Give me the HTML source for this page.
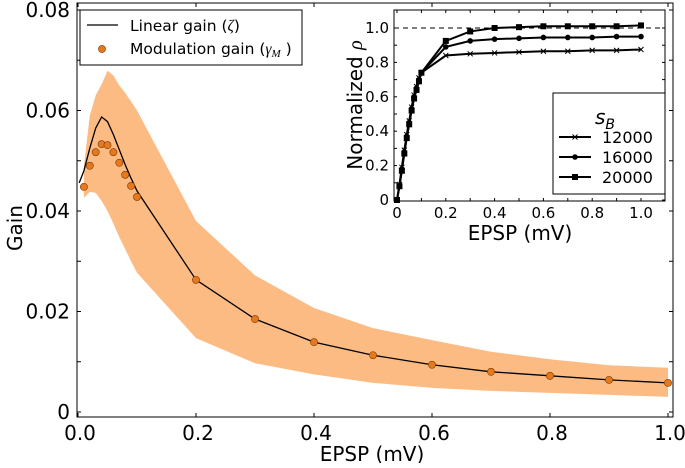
<!DOCTYPE html>
<html><head><meta charset="utf-8"><style>
body{margin:0;background:#fff}
svg text{font-family:"DejaVu Sans","Liberation Sans",sans-serif;fill:#000}
</style></head><body>
<svg id="c" width="685" height="463" viewBox="0 0 685 463"></svg>
<script>
const xs=[0.01,0.02,0.03,0.04,0.05,0.06,0.07,0.08,0.09,0.1,0.2,0.3,0.4,0.5,0.6,0.7,0.8,0.9,1.0];
const lineXs=[0.002,0.01,0.02,0.03,0.04,0.05,0.06,0.07,0.08,0.09,0.1,0.2,0.3,0.4,0.5,0.6,0.7,0.8,0.9,1.0];
const linearGain=[0.0456,0.0480,0.0525,0.0565,0.0587,0.0578,0.0552,0.0522,0.0492,0.0465,0.0440,0.0263,0.0185,0.0139,0.0113,0.0094,0.0080,0.0072,0.0064,0.0058];
const modGain=[0.0448,0.0490,0.0517,0.0533,0.0531,0.0517,0.0496,0.0472,0.0450,0.0428,0.0263,0.0185,0.0139,0.0113,0.0094,0.0080,0.0072,0.0064,0.0058];
const bandUpper=[0.0490,0.0590,0.0630,0.0652,0.0679,0.0670,0.0650,0.0635,0.0618,0.0600,0.0380,0.0272,0.0207,0.0167,0.0143,0.0120,0.0105,0.0093,0.0088];
const bandLower=[0.0426,0.0438,0.0436,0.0420,0.0400,0.0375,0.0348,0.0324,0.0300,0.0277,0.0147,0.0097,0.0075,0.0058,0.0048,0.0042,0.0038,0.0034,0.0030];
const xTicks=[0,0.2,0.4,0.6,0.8,1.0];
const xTickLabels=["0.0","0.2","0.4","0.6","0.8","1.0"];
const yTicks=[0,0.02,0.04,0.06,0.08];
const yTickLabels=["0","0.02","0.04","0.06","0.08"];
const inX=[0,0.01,0.02,0.03,0.04,0.05,0.06,0.07,0.08,0.09,0.1,0.2,0.3,0.4,0.5,0.6,0.7,0.8,0.9,1.0];
const rho12000=[0,0.09,0.19,0.29,0.38,0.46,0.54,0.61,0.66,0.71,0.74,0.84,0.85,0.855,0.86,0.865,0.865,0.87,0.87,0.875];
const rho16000=[0,0.08,0.18,0.28,0.37,0.45,0.53,0.60,0.65,0.70,0.74,0.89,0.925,0.935,0.94,0.945,0.945,0.945,0.95,0.95];
const rho20000=[0,0.08,0.17,0.27,0.36,0.44,0.52,0.59,0.64,0.69,0.74,0.925,0.98,1.0,1.005,1.01,1.01,1.01,1.01,1.015];
const inXTicks=[0,0.2,0.4,0.6,0.8,1.0];
const inXLabels=["0","0.2","0.4","0.6","0.8","1.0"];
const inYTicks=[0,0.2,0.4,0.6,0.8,1.0];
const inYLabels=["0","0.2","0.4","0.6","0.8","1.0"];

const NS="http://www.w3.org/2000/svg";
const svg=document.getElementById('c');
function mk(tag,attrs,parent,text){const e=document.createElementNS(NS,tag);for(const k in attrs)e.setAttribute(k,attrs[k]);if(text!==undefined)e.textContent=text;(parent||svg).appendChild(e);return e;}
const X=v=>78+v*590, Y=v=>412-v/0.02*100.5;
const L=77,R=673,T=3,B=417;
const gMain=mk('g',{});


let p='M'+xs.map((x,i)=>X(x)+','+Y(bandUpper[i])).join('L');
for(let i=xs.length-1;i>=0;i--)p+='L'+X(xs[i])+','+Y(bandLower[i]);
const band=mk('path',{d:p+'Z',fill:'#fdbb84'},gMain);


const ln=mk('polyline',{points:lineXs.map((x,i)=>X(x)+','+Y(linearGain[i])).join(' '),fill:'none',stroke:'#000','stroke-width':1.3},gMain);


xs.forEach((x,i)=>{const c=mk('circle',{cx:X(x),cy:Y(modGain[i]),r:3.6,fill:'#e6791e',stroke:'#7a3a00','stroke-width':0.6},gMain);

});
mk('rect',{x:L,y:T,width:R-L,height:B-T,fill:'none',stroke:'#000','stroke-width':1},gMain);
for(let v=0;v<=0.0805;v+=0.01){const y=Y(v);mk('line',{x1:L,x2:L+4,y1:y,y2:y,stroke:'#000'},gMain);mk('line',{x1:R,x2:R-4,y1:y,y2:y,stroke:'#000'},gMain);}
yTicks.forEach((v,i)=>{const t=mk('text',{x:70,y:Y(v)+7,'text-anchor':'end','font-size':20},gMain,yTickLabels[i]);

});
xTicks.forEach((v,i)=>{mk('line',{x1:X(v),x2:X(v),y1:B,y2:B-4,stroke:'#000'},gMain);mk('line',{x1:X(v),x2:X(v),y1:T,y2:T+4,stroke:'#000'},gMain);
const t=mk('text',{x:X(v)+2,y:440,'text-anchor':'middle','font-size':20},gMain,xTickLabels[i]);

});
const xl=mk('text',{x:372,y:461,'text-anchor':'middle','font-size':20},gMain,'EPSP (mV)');


const yl=mk('text',{x:0,y:0,transform:'translate(22,228) rotate(-90)','text-anchor':'middle','font-size':20},gMain,'Gain');


const lg=mk('g',{});


mk('rect',{x:80,y:10,width:222,height:55,fill:'#fff',stroke:'#000','stroke-width':1},lg);
mk('line',{x1:87,x2:118,y1:25,y2:25,stroke:'#000','stroke-width':1.3},lg);
const l1=mk('text',{x:130,y:31,'font-size':15.5},lg,'Linear gain (');
mk('tspan',{'font-style':'italic','font-family':'Liberation Serif,serif'},l1,'ζ');
mk('tspan',{},l1,')');
mk('circle',{cx:102,cy:49,r:3.6,fill:'#e6791e',stroke:'#7a3a00','stroke-width':0.6},lg);
const lt=mk('text',{x:130,y:54,'font-size':15.5},lg,'Modulation gain (');
mk('tspan',{'font-style':'italic','font-family':'Liberation Serif,serif'},lt,'γ');
mk('tspan',{'font-style':'italic','font-family':'Liberation Serif,serif','font-size':11,dy:3},lt,'M');
mk('tspan',{dy:-3},lt,' )');
const IX=v=>397+v*244, IY=v=>200-v*172;
const iL=394,iR=665,iT=10,iB=201;
const gi=mk('g',{});


mk('rect',{x:iL,y:iT,width:iR-iL,height:iB-iT,fill:'#fff',stroke:'#000','stroke-width':1},gi);
mk('line',{x1:iL,x2:iR,y1:IY(1),y2:IY(1),stroke:'#000','stroke-dasharray':'5,4','stroke-width':1},gi);
for(let v=0;v<=1.05;v+=0.1){const y=IY(v);mk('line',{x1:iL,x2:iL+3,y1:y,y2:y,stroke:'#000'},gi);mk('line',{x1:iR,x2:iR-3,y1:y,y2:y,stroke:'#000'},gi);}
for(let v=0;v<=1.05;v+=0.1){const x=IX(v);mk('line',{x1:x,x2:x,y1:iB,y2:iB-3,stroke:'#000'},gi);mk('line',{x1:x,x2:x,y1:iT,y2:iT+3,stroke:'#000'},gi);}
inYTicks.forEach((v,i)=>{const t=mk('text',{x:iL-5,y:IY(v)+5,'text-anchor':'end','font-size':15},gi,inYLabels[i]);

});
inXTicks.forEach((v,i)=>{const t=mk('text',{x:IX(v),y:218,'text-anchor':'middle','font-size':15},gi,inXLabels[i]);

});
const ixl=mk('text',{x:520,y:240,'text-anchor':'middle','font-size':20},gi,'EPSP (mV)');


const iyl=mk('text',{x:0,y:0,transform:'translate(362,105) rotate(-90)','text-anchor':'middle','font-size':20},gi,'Normalized ');
mk('tspan',{'font-style':'italic','font-family':'Liberation Serif,serif'},iyl,'ρ');


function marker(g,type,x,y){
 if(type==='x'){mk('path',{d:`M${x-2.5},${y-2.5}L${x+2.5},${y+2.5}M${x-2.5},${y+2.5}L${x+2.5},${y-2.5}`,stroke:'#000','stroke-width':1},g);}
 else if(type==='o'){mk('circle',{cx:x,cy:y,r:2.8,fill:'#000'},g);}
 else mk('rect',{x:x-3,y:y-3,width:6,height:6,fill:'#000'},g);
}
[[rho12000,'x','series-12000'],[rho16000,'o','series-16000'],[rho20000,'s','series-20000']].forEach(([arr,m,name])=>{
 const g=mk('g',{},gi);
 
 
 mk('polyline',{points:inX.map((x,i)=>IX(x)+','+IY(arr[i])).join(' '),fill:'none',stroke:'#000','stroke-width':2},g);
 inX.forEach((x,i)=>marker(g,m,IX(x),IY(arr[i])));
});
const il=mk('g',{},gi);


mk('rect',{x:553,y:93,width:112,height:101,fill:'#fff',stroke:'#000'},il);
const st=mk('text',{x:595,y:124,'font-size':20,'font-style':'italic','font-family':'Liberation Serif,serif'},il,'s');
mk('tspan',{'font-size':14,dy:5},st,'B');
[['12000','x',142],['16000','o',162],['20000','s',182]].forEach(([lab,m,y])=>{
 mk('line',{x1:559,x2:591,y1:y-5,y2:y-5,stroke:'#000','stroke-width':2},il);
 marker(il,m,575,y-5);
 mk('text',{x:602,y:y+1,'font-size':16},il,lab);
});
</script>
</body></html>
